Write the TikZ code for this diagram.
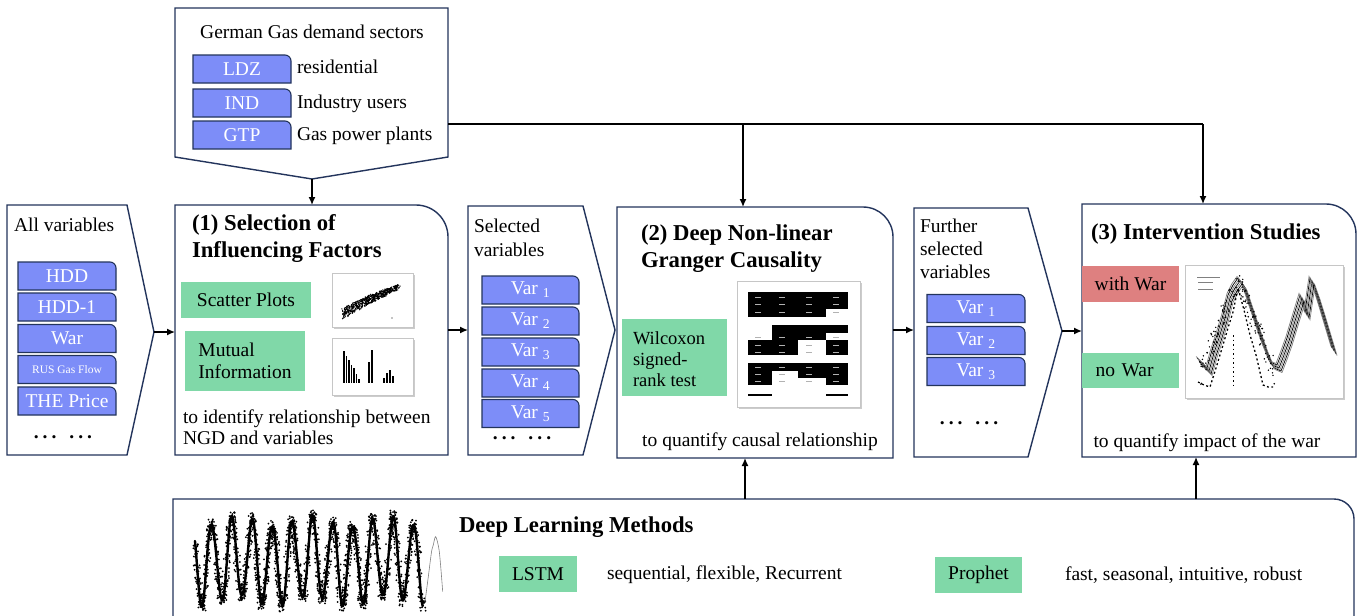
\documentclass[tikz,border=0pt]{standalone}
\usepackage{fontspec}
\setmainfont{Liberation Serif}
\usetikzlibrary{arrows.meta,shadows}
\definecolor{navy}{RGB}{35,52,92}
\definecolor{varblue}{RGB}{125,141,248}
\definecolor{mint}{RGB}{128,216,168}
\definecolor{rose}{RGB}{222,128,128}
\newcommand{\DotRow}{\textbf{.\hspace{4pt}.\hspace{4pt}.\hspace{13pt}.\hspace{4pt}.\hspace{4pt}.}}
\newcommand{\VarBox}[5]{%
  \node[minimum width=#4pt, minimum height=28pt] (#1) at (#2,#3) {};
  \draw[navy, line width=1.1pt, fill=varblue] (#1.south west) -- (#1.north west) -- ([xshift=-6pt]#1.north east) arc[start angle=90,end angle=0,radius=6pt] -- (#1.south east) -- cycle;
  \node[text=white] (#1-t) at (#1) {#5};}
\tikzset{
  every node/.style={font=\fontsize{19.5}{22}\selectfont, inner sep=0pt, outer sep=0pt},
  txt/.style={anchor=west, align=left},
  ttl/.style={anchor=west, align=left, font=\fontsize{22.7}{27}\selectfont\bfseries},
  frame/.style={draw=navy, line width=1.4pt, fill=white},
  tag/.style={fill=mint},
  imgframe/.style={draw=gray!45, fill=white, line width=0.8pt, drop shadow={shadow xshift=1.5pt, shadow yshift=-2pt, opacity=0.4}},
  arr/.style={-{Latex[length=8pt,width=7pt]}, line width=1.4pt, black},
  ln/.style={line width=1.4pt, black},
}
\begin{document}
\begin{tikzpicture}[x=1pt,y=1pt]
\useasboundingbox (0,0) rectangle (1369,-616);
\fill[white] (0,0) rectangle (1369,-616);

% ---------- frames ----------
\draw[frame] (175,-8) -- (448,-8) -- (448,-157) -- (312,-179) -- (175,-157) -- cycle;
\coordinate (sec-tip) at (312,-179);
\coordinate (sec-r) at (448,-124);

\draw[frame] (7,-205) -- (127,-205) -- (154,-332) -- (127,-455) -- (7,-455) -- cycle;
\coordinate (all-tip) at (154,-332);

\node[minimum width=273pt,minimum height=250pt] (sel) at (311.5,-330) {};
\draw[frame] (sel.south west) -- (sel.north west) -- ([xshift=-32pt]sel.north east) arc[start angle=90,end angle=0,radius=32pt] -- (sel.south east) -- cycle;

\draw[frame] (468,-206) -- (583,-206) -- (615,-330) -- (583,-455) -- (468,-455) -- cycle;
\coordinate (selv-w) at (468,-330);

\node[minimum width=276pt,minimum height=251pt] (gc) at (755,-332.5) {};
\draw[frame] (gc.south west) -- (gc.north west) -- ([xshift=-30pt]gc.north east) arc[start angle=90,end angle=0,radius=30pt] -- (gc.south east) -- cycle;

\draw[frame] (914,-208) -- (1028,-208) -- (1062,-331) -- (1028,-457) -- (914,-457) -- cycle;
\coordinate (fur-w) at (914,-330);
\coordinate (fur-tip) at (1062,-331);

\node[minimum width=274pt,minimum height=253pt] (int) at (1219,-330.5) {};
\draw[frame] (int.south west) -- (int.north west) -- ([xshift=-30pt]int.north east) arc[start angle=90,end angle=0,radius=30pt] -- (int.south east) -- cycle;

\draw[frame] (173,-617) -- (173,-499) -- (1334,-499) arc[start angle=90,end angle=0,radius=20pt] -- (1354,-617);
\coordinate (b1) at (745,-499);
\coordinate (b2) at (1196,-499);

% ---------- connectors ----------
\coordinate (j1) at (743,-124);
\coordinate (j2) at (1203,-124);
\draw[ln] (sec-r) -- (j2);
\draw[arr] (j1) -- (j1 |- gc.north);
\draw[arr] (j2) -- (j2 |- int.north);
\draw[arr] (sec-tip) -- (sec-tip |- sel.north);
\draw[arr] (all-tip) -- (all-tip -| sel.west);
\draw[arr] (selv-w -| sel.east) -- (selv-w);
\draw[arr] (fur-w -| gc.east) -- (fur-w);
\draw[arr] (fur-tip) -- (fur-tip -| int.west);
\draw[arr] (b1) -- (b1 |- gc.south);
\draw[arr] (b2) -- (b2 |- int.south);

% ---------- top box ----------
\node (sec-t) at (312,-32) {German Gas demand sectors};
\VarBox{ldz}{242}{-69}{98}{LDZ}
\VarBox{ind}{242}{-103}{98}{IND}
\VarBox{gtp}{242}{-135}{98}{GTP}
\node[txt] (ldz-l) at (297,-67) {residential};
\node[txt] (ind-l) at (297,-104) {Industry users};
\node[txt] (gtp-l) at (297,-136) {Gas power plants};

% ---------- all variables ----------
\node[txt] (all-t) at (14,-225) {All variables};
\VarBox{hdd}{67}{-276}{98}{HDD}
\VarBox{hdda}{67}{-307}{98}{HDD-1}
\VarBox{war}{67}{-338.5}{98}{War}
\VarBox{rus}{67}{-369.5}{98}{{\fontsize{11.5}{13}\selectfont RUS Gas Flow}}
\VarBox{the}{67}{-401}{98}{THE Price}
\node (all-dots) at (63,-437) {\DotRow};

% ---------- (1) selection ----------
\node[ttl] (sel-t) at (192,-238.5) {(1) Selection of\\Influencing Factors};
\node[tag, minimum width=130pt, minimum height=36pt] (scat) at (246,-300) {Scatter Plots};
\node[tag, minimum width=120pt, minimum height=60pt, align=left] (mi) at (245,-361) {Mutual\\Information};
\node[txt, font=\fontsize{19.5}{21}\selectfont] (sel-d) at (183,-427.5) {to identify relationship between\\NGD and variables};

\node[imgframe, minimum width=81pt, minimum height=54pt] (scimg) at (372.5,-300) {};
\pgfmathsetseed{3}
\foreach \i in {1,...,650}{
  \pgfmathsetmacro{\t}{rnd}
  \pgfmathsetmacro{\px}{343+56*\t+1.5*rand}
  \pgfmathsetmacro{\py}{-314+34*\t-7*\t*\t+(5.5-3*\t)*rand}
  \fill (\px,\py) circle[radius=0.7pt];
}
\fill (392,-318) circle[radius=0.6pt];

\node[imgframe, minimum width=81pt, minimum height=57pt] (barimg) at (372.5,-366.5) {};
\foreach \bx/\by in {344/351,346.5/356,349/360,351.5/365,354/368,356.5/374,359/379,369/362,372/350,384/378,387/373,390/370,393/376}
  \draw[line width=1.3pt] (\bx,-382.5) -- (\bx,-\by);

% ---------- selected variables ----------
\node[txt, font=\fontsize{19.5}{24}\selectfont] (selv-t) at (474,-238) {Selected\\variables};
\VarBox{sv1}{530.5}{-290}{97}{Var \textsubscript{1}}
\VarBox{sv2}{530.5}{-321}{97}{Var \textsubscript{2}}
\VarBox{sv3}{530.5}{-352}{97}{Var \textsubscript{3}}
\VarBox{sv4}{530.5}{-383}{97}{Var \textsubscript{4}}
\VarBox{sv5}{530.5}{-413.5}{97}{Var \textsubscript{5}}
\node (selv-dots) at (522,-438) {\DotRow};

% ---------- (2) granger ----------
\node[ttl] (gc-t) at (641,-248.5) {(2) Deep Non-linear\\Granger Causality};
\node[tag, minimum width=105pt, minimum height=77pt] (wil) at (674.5,-357.5) {};
\node[txt, font=\fontsize{18.5}{21}\selectfont] (wil-t) at (633,-359) {Wilcoxon\\signed-\\rank test};
\node[imgframe, minimum width=123pt, minimum height=126pt] (tab) at (798.5,-344) {};
\fill (748.3,-292.3) rectangle (848.3,-308.5);
\fill (748.3,-308.5) rectangle (826,-316.7);
\fill (771.7,-325) rectangle (848.3,-332.7);
\fill (771.7,-332.7) rectangle (826,-340.3);
\fill (748.3,-340.3) rectangle (798.3,-355);
\fill (826,-340.3) rectangle (848.3,-355);
\fill (748.3,-363.3) rectangle (848.3,-370.7);
\fill (748.3,-370.7) rectangle (771.7,-385);
\fill (798.3,-370.7) rectangle (848.3,-378);
\fill (826,-378) rectangle (848.3,-385);
\fill (748.3,-393.7) rectangle (771.7,-396);
\fill (826,-393.7) rectangle (848.3,-396);
\foreach \cx in {755,779,806,833}
  \foreach \cy in {-297,-304.5,-312,-337,-345,-352,-367,-374.5,-381.5}
    \draw[white!70!black, line width=0.4pt] (\cx,\cy) -- ++(6,0);
\node (gc-d) at (760,-442) {to quantify causal relationship};

% ---------- further selected ----------
\node[txt, font=\fontsize{19.5}{23}\selectfont] (fur-t) at (920,-249) {Further\\selected\\variables};
\VarBox{fv1}{976}{-308.5}{98}{Var \textsubscript{1}}
\VarBox{fv2}{976}{-340.5}{98}{Var \textsubscript{2}}
\VarBox{fv3}{976}{-371.5}{98}{Var \textsubscript{3}}
\node (fur-dots) at (969,-423) {\DotRow};

% ---------- (3) intervention ----------
\node[ttl] (int-t) at (1091,-234) {(3) Intervention Studies};
\node[fill=rose, minimum width=97pt, minimum height=36pt] (wwar) at (1130.5,-284) {with War};
\node[tag, minimum width=97pt, minimum height=35pt, text width=70pt, align=left] (nwar) at (1130.5,-370.5) {no War};
\node[imgframe, minimum width=158pt, minimum height=133pt] (chart) at (1264,-331.5) {};
\foreach \dx/\dy/\c in {0/0/black,1/-1.5/gray,2/-3/black,3/-4.5/gray,-1/1.5/gray,4/-6/black,5/-7.5/gray}
  \draw[\c, line width=0.7pt, shift={(\dx,\dy)}] plot coordinates {(1197,-358) (1203,-364) (1207,-368) (1212,-350) (1217,-335) (1223,-315) (1228,-295) (1233,-285) (1238,-278) (1242,-283) (1246,-295) (1251,-310) (1257,-328) (1263,-345) (1270,-362) (1277,-365) (1282,-352) (1287,-338) (1293,-318) (1300,-295) (1305,-312) (1310,-278) (1315,-292) (1320,-308) (1326,-328) (1332,-348)};
\draw[line width=1.3pt, dash pattern=on 2pt off 2.5pt] plot coordinates {(1198,-382) (1204,-385) (1210,-387) (1216,-368) (1223,-345) (1228,-328) (1233,-312) (1238,-288) (1244,-310) (1250,-335) (1256,-355) (1263,-385) (1268,-387) (1273,-387)};
\pgfmathsetseed{11}
\foreach \i in {1,...,140}{
  \pgfmathsetmacro{\t}{rnd}
  \pgfmathsetmacro{\qx}{1200+75*\t}
  \pgfmathsetmacro{\qy}{-387+95*(1-2*abs(\t-0.5))+28*rnd}
  \fill (\qx,\qy) circle[radius=0.8pt];
}
\draw[line width=1pt, dash pattern=on 1.5pt off 3pt] (1233,-335) -- (1233,-388);
\draw[gray, line width=0.7pt] (1197,-277) -- (1220,-277);
\draw[gray, line width=0.7pt] (1198,-282.5) -- (1213,-282.5);
\draw[gray, line width=0.7pt] (1198,-289) -- (1213,-289);
\node (int-d) at (1207,-443) {to quantify impact of the war};

% ---------- bottom: deep learning ----------
\node[ttl] (dl-t) at (459,-527) {Deep Learning Methods};
\node[tag, minimum width=78pt, minimum height=36pt] (lstm) at (538,-574) {LSTM};
\node[txt] (lstm-d) at (607,-575) {sequential, flexible, Recurrent};
\node[tag, minimum width=87pt, minimum height=36pt] (proph) at (978.5,-575) {Prophet};
\node[txt] (proph-d) at (1065,-575) {fast, seasonal, intuitive, robust};

\draw[line width=2.4pt, line join=round] plot[domain=0:228, samples=460] ({\x+195},{-(561+(40+6*sin(13*\x))*cos(17.866*(\x-6.7)))});
\pgfmathsetseed{5}
\foreach \i in {1,...,2200}{
  \pgfmathsetmacro{\wx}{228*rnd}
  \pgfmathsetmacro{\wy}{-(561+(40+6*sin(13*\wx))*cos(17.866*(\wx-6.7)))+6*rand}
  \pgfmathsetmacro{\wj}{\wx+195+3.2*rand}
  \fill (\wj,\wy) circle[radius=1pt];
}
\draw[gray, line width=0.6pt] plot[smooth] coordinates {(425,-602) (428.3,-576.7) (431.5,-552) (433.3,-545) (435.7,-536.7) (439.3,-551.7) (442.7,-591.7)};
\end{tikzpicture}
\end{document}
